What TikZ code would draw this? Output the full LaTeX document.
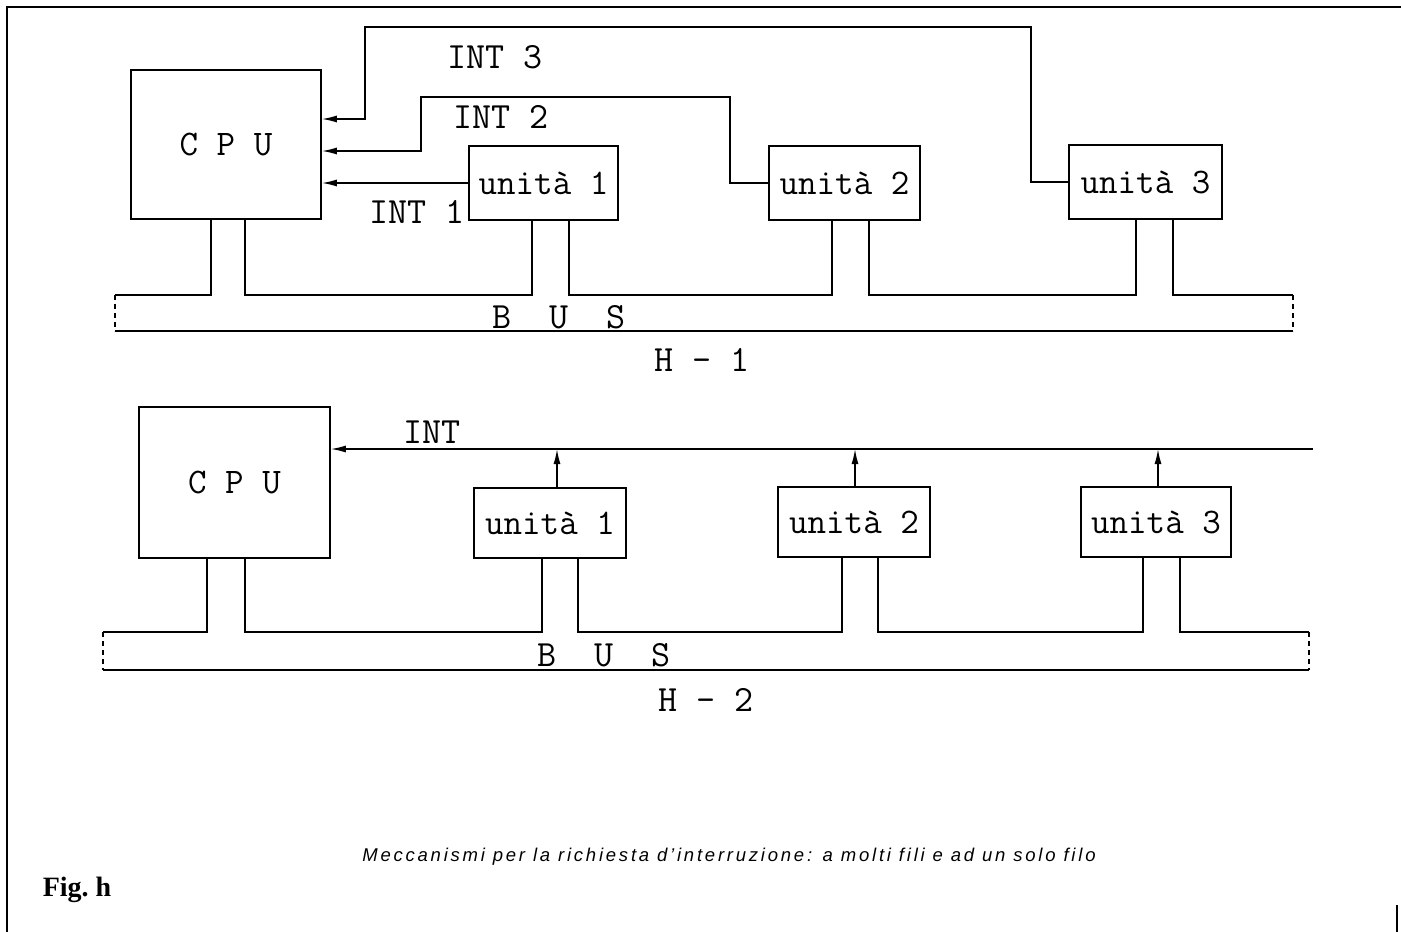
\documentclass[tikz,border=0pt]{standalone}
\usepackage{fontspec}
\setmainfont{Liberation Serif}
\setsansfont{Liberation Sans}
\usetikzlibrary{arrows.meta}
\begin{document}
\begin{tikzpicture}[x=1pt,y=-1pt,line width=1.5pt,
  box/.style={draw,rectangle,inner sep=0pt,font=\ttfamily\fontsize{36}{40}\selectfont\addfontfeatures{FakeBold=0.6}},
  lbl/.style={inner sep=0pt,font=\ttfamily\fontsize{37}{40}\selectfont\addfontfeatures{FakeBold=0.6}},
  tipl/.style={-{Latex[length=15pt,width=7pt]}},
  busend/.style={dash pattern=on 5pt off 4pt}]
\useasboundingbox (0,0) rectangle (1401,932);
% frame
\draw[line width=1.2pt] (7,932) -- (7,7) -- (1401,7);
\draw[line width=1.2pt] (1397,905) -- (1397,932);
% ---------- H-1 ----------
\node[box,minimum width=190pt,minimum height=149pt] (cpu1) at (226,144.5) {C P U};
\node[box,minimum width=149pt,minimum height=74pt] (u1) at (543.5,183) {unità 1};
\node[box,minimum width=151pt,minimum height=74pt] (u2) at (844.5,183) {unità 2};
\node[box,minimum width=153pt,minimum height=74pt] (u3) at (1145.5,182) {unità 3};
\node[lbl] (int3) at (495,57) {INT 3};
\node[lbl] (int2) at (501,117) {INT 2};
\node[lbl] (int1) at (417,212) {INT~1};
\draw[tipl] (u1.west) -- (u1.west -| cpu1.east);
\draw[tipl] (u2.west) -- (730,183) -- (730,97) -- (421,97) -- (421,151) -- (cpu1.east |- 0,151);
\draw[tipl] (u3.west) -- (1031,182) -- (1031,27) -- (365,27) -- (365,119) -- (cpu1.east |- 0,119);
\coordinate (b1tl) at (115,295);
\coordinate (b1tr) at (1293,295);
\coordinate (b1bl) at (115,331);
\coordinate (b1br) at (1293,331);
\draw (b1tl) -- (211,295) -- (cpu1.south -| 211,0);
\draw (cpu1.south -| 245,0) -- (245,295) -- (532,295) -- (u1.south -| 532,0);
\draw (u1.south -| 569,0) -- (569,295) -- (832,295) -- (u2.south -| 832,0);
\draw (u2.south -| 869,0) -- (869,295) -- (1136,295) -- (u3.south -| 1136,0);
\draw (u3.south -| 1173,0) -- (1173,295) -- (b1tr);
\draw (b1bl) -- (b1br);
\draw[busend] (b1tl) -- (b1bl);
\draw[busend] (b1tr) -- (b1br);
\node[lbl] (bus1) at (559,317) {B~~U~~S};
\node[lbl] (h1) at (702,360) {H – 1};
% ---------- H-2 ----------
\node[box,minimum width=191pt,minimum height=151pt] (cpu2) at (234.5,482.5) {C P U};
\node[box,minimum width=152pt,minimum height=70pt] (v1) at (550,523) {unità 1};
\node[box,minimum width=152pt,minimum height=70pt] (v2) at (854,522) {unità 2};
\node[box,minimum width=150pt,minimum height=70pt] (v3) at (1156,522) {unità 3};
\node[lbl] (int) at (432,432) {INT};
\coordinate (intend) at (1313,449);
\draw[tipl] (intend) -- (intend -| cpu2.east);
\draw[tipl] (v1.north -| 557,0) -- (557,449);
\draw[tipl] (v2.north -| 855,0) -- (855,449);
\draw[tipl] (v3.north -| 1158,0) -- (1158,449);
\coordinate (b2tl) at (103,632);
\coordinate (b2tr) at (1309,632);
\coordinate (b2bl) at (103,670);
\coordinate (b2br) at (1309,670);
\draw (b2tl) -- (207,632) -- (cpu2.south -| 207,0);
\draw (cpu2.south -| 245,0) -- (245,632) -- (542,632) -- (v1.south -| 542,0);
\draw (v1.south -| 578,0) -- (578,632) -- (842,632) -- (v2.south -| 842,0);
\draw (v2.south -| 878,0) -- (878,632) -- (1143,632) -- (v3.south -| 1143,0);
\draw (v3.south -| 1180,0) -- (1180,632) -- (b2tr);
\draw (b2bl) -- (b2br);
\draw[busend] (b2tl) -- (b2bl);
\draw[busend] (b2tr) -- (b2br);
\node[lbl] (bus2) at (604,655) {B~~U~~S};
\node[lbl] (h2) at (706,700) {H – 2};
% ---------- captions ----------
\node[inner sep=0pt,font=\sffamily\itshape\fontsize{18.5}{22}\selectfont\addfontfeatures{LetterSpace=15,Ligatures=NoCommon}] (cap) at (729,857) {Meccanismi per la richiesta d'interruzione: a molti fili e ad un solo filo};
\node[inner sep=0pt,anchor=west,font=\rmfamily\bfseries\fontsize{28}{30}\selectfont] (fig) at (42,890) {Fig.~h};
\end{tikzpicture}
\end{document}
